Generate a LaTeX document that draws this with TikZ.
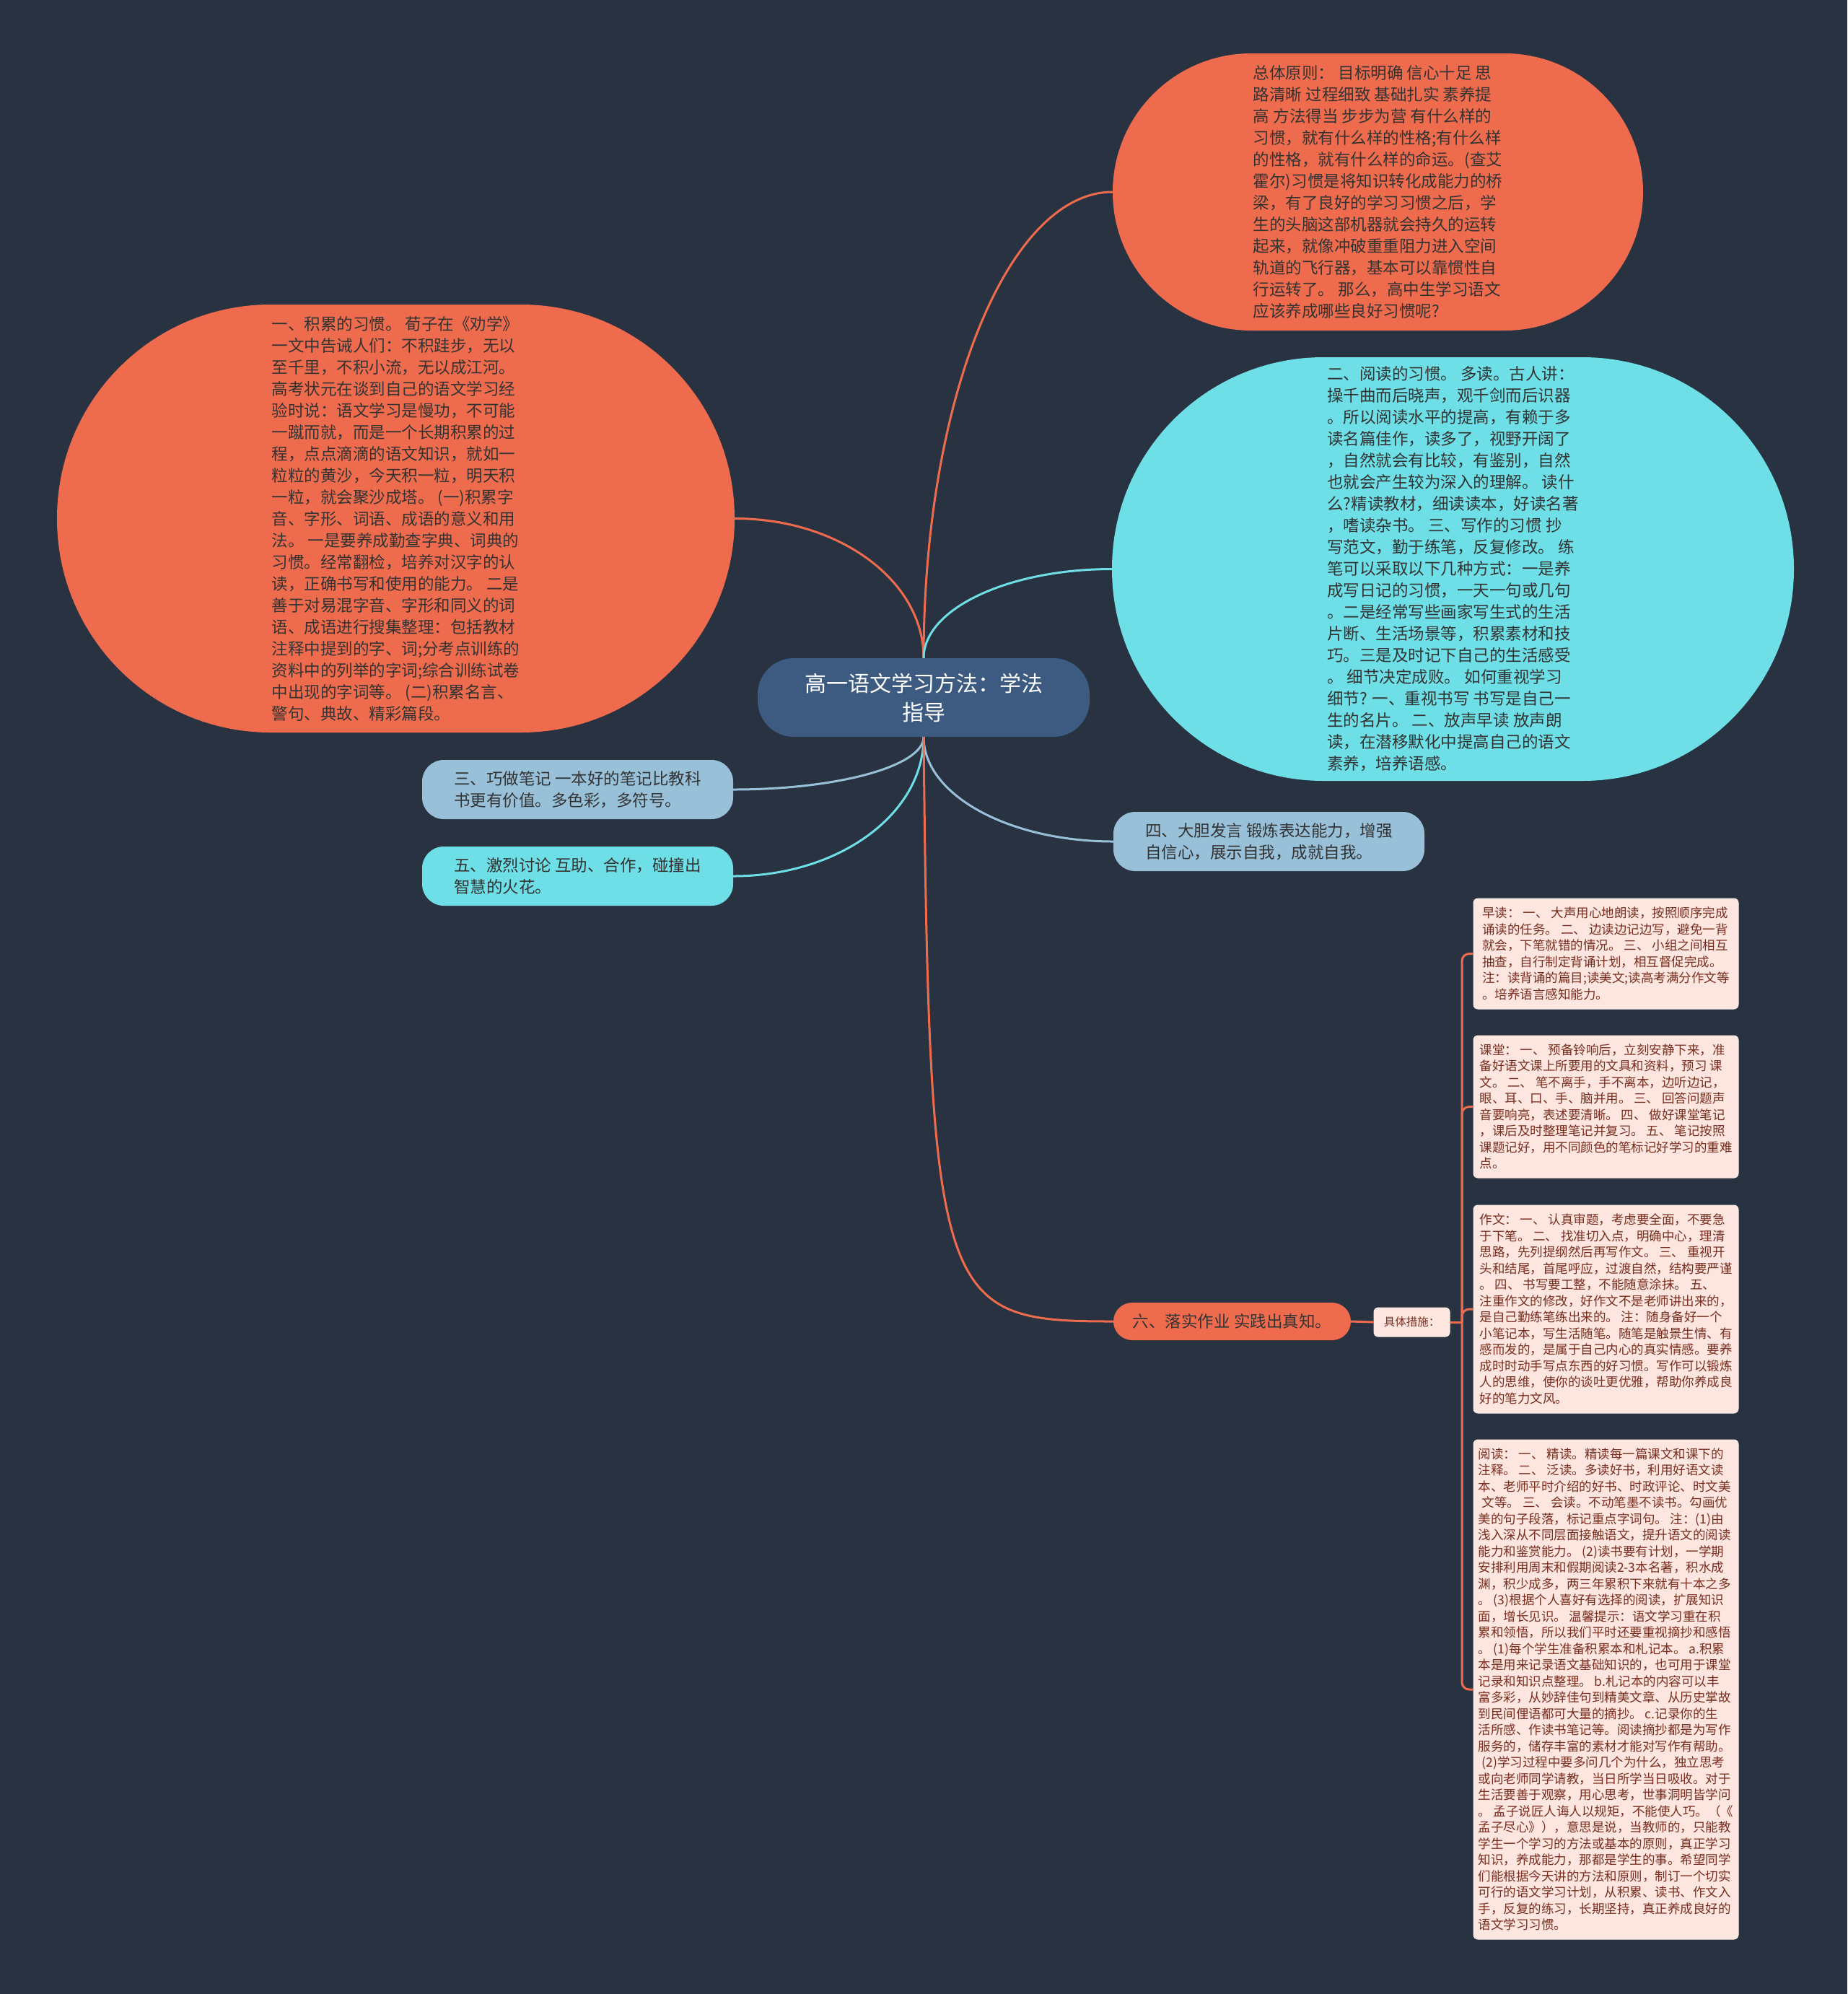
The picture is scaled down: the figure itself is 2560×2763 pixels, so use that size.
\documentclass[tikz,border=0pt]{standalone}
\usepackage{fontspec}
\setmainfont{Noto Sans CJK SC}
\definecolor{bg}{RGB}{41,50,65}
\definecolor{navy}{RGB}{61,90,128}
\definecolor{sky}{RGB}{152,193,217}
\definecolor{sienna}{RGB}{238,108,77}
\definecolor{aqua}{RGB}{110,223,230}
\definecolor{blush}{RGB}{252,230,223}
\definecolor{blushline}{RGB}{250,238,234}
\definecolor{ink}{RGB}{51,51,51}
\definecolor{rust}{RGB}{120,45,30}
\begin{document}
\begin{tikzpicture}[x=1pt,y=-1pt,
  bigtext/.style={inner sep=0pt, align=left, text=ink, font=\fontsize{22.5}{30}\selectfont},
  pilltext/.style={inner sep=0pt, align=left, text=ink, font=\fontsize{22.5}{30}\selectfont},
  notebox/.style={fill=blush, draw=blushline, line width=1pt, rounded corners=6pt, inner sep=0pt, align=left, text=rust, font=\fontsize{17.5}{22.5}\selectfont, minimum width=367pt},
  link/.style={line width=3pt},
]
\fill[bg] (0,0) rectangle (2560,2763);

% central topic
\node[fill=navy, minimum width=460pt, minimum height=109pt, rounded corners=50pt, inner sep=0pt, align=center, text=white, font=\fontsize{30}{40}\selectfont] (C) at (1280,966.5) {高一语文学习方法：学法\\指导};

% big stadium nodes
\node[bigtext, fill=sienna, minimum width=735pt, minimum height=384pt, rounded corners=192pt] (TR) at (1909.5,266) {总体原则： 目标明确 信心十足 思\\
路清晰 过程细致 基础扎实 素养提\\
高 方法得当 步步为营 有什么样的\\
习惯，就有什么样的性格;有什么样\\
的性格，就有什么样的命运。(查艾\\
霍尔)习惯是将知识转化成能力的桥\\
梁，有了良好的学习习惯之后，学\\
生的头脑这部机器就会持久的运转\\
起来，就像冲破重重阻力进入空间\\
轨道的飞行器，基本可以靠惯性自\\
行运转了。 那么，高中生学习语文\\
应该养成哪些良好习惯呢?};

\node[bigtext, fill=sienna, minimum width=939pt, minimum height=593pt, rounded corners=296pt] (L) at (548.5,718.5) {一、积累的习惯。 荀子在《劝学》\\
一文中告诫人们：不积跬步，无以\\
至千里，不积小流，无以成江河。\\
高考状元在谈到自己的语文学习经\\
验时说：语文学习是慢功，不可能\\
一蹴而就，而是一个长期积累的过\\
程，点点滴滴的语文知识，就如一\\
粒粒的黄沙，今天积一粒，明天积\\
一粒，就会聚沙成塔。 (一)积累字\\
音、字形、词语、成语的意义和用\\
法。 一是要养成勤查字典、词典的\\
习惯。经常翻检，培养对汉字的认\\
读，正确书写和使用的能力。 二是\\
善于对易混字音、字形和同义的词\\
语、成语进行搜集整理：包括教材\\
注释中提到的字、词;分考点训练的\\
资料中的列举的字词;综合训练试卷\\
中出现的字词等。 (二)积累名言、\\
警句、典故、精彩篇段。};

\node[bigtext, fill=aqua, minimum width=945pt, minimum height=587pt, rounded corners=293pt] (CY) at (2013.5,788.5) {二、阅读的习惯。 多读。古人讲：\\
操千曲而后晓声，观千剑而后识器\\
。所以阅读水平的提高，有赖于多\\
读名篇佳作，读多了，视野开阔了\\
，自然就会有比较，有鉴别，自然\\
也就会产生较为深入的理解。 读什\\
么?精读教材，细读读本，好读名著\\
，嗜读杂书。 三、写作的习惯 抄\\
写范文，勤于练笔，反复修改。 练\\
笔可以采取以下几种方式：一是养\\
成写日记的习惯，一天一句或几句\\
。二是经常写些画家写生式的生活\\
片断、生活场景等，积累素材和技\\
巧。三是及时记下自己的生活感受\\
。 细节决定成败。 如何重视学习\\
细节? 一、重视书写 书写是自己一\\
生的名片。 二、放声早读 放声朗\\
读，在潜移默化中提高自己的语文\\
素养，培养语感。};

% small pill nodes
\node[pilltext, fill=sky, minimum width=431pt, minimum height=82pt, rounded corners=30pt] (N3) at (800.5,1094) {三、巧做笔记 一本好的笔记比教科\\书更有价值。多色彩，多符号。};
\node[pilltext, fill=aqua, minimum width=431pt, minimum height=82pt, rounded corners=30pt] (N5) at (800.5,1214) {五、激烈讨论 互助、合作，碰撞出\\智慧的火花。};
\node[pilltext, fill=sky, minimum width=431pt, minimum height=82pt, rounded corners=30pt] (N4) at (1758.5,1166) {四、大胆发言 锻炼表达能力，增强\\自信心，展示自我，成就自我。};
\node[pilltext, fill=sienna, minimum width=329pt, minimum height=52pt, rounded corners=26pt] (N6) at (1707.5,1831) {六、落实作业 实践出真知。};

% detail label and notes
\node[notebox, minimum width=105pt, minimum height=40pt, font=\fontsize{15.5}{20}\selectfont] (JT) at (1956.5,1832) {具体措施：};

\node[notebox, minimum height=153pt] (B1) at (2225.5,1321.5) {早读： 一、 大声用心地朗读，按照顺序完成\\
诵读的任务。 二、 边读边记边写，避免一背\\
就会，下笔就错的情况。 三、 小组之间相互\\
抽查，自行制定背诵计划，相互督促完成。\\
注：读背诵的篇目;读美文;读高考满分作文等\\
。培养语言感知能力。};

\node[notebox, minimum height=197pt] (B2) at (2225.5,1533.5) {课堂： 一、 预备铃响后，立刻安静下来，准\\
备好语文课上所要用的文具和资料，预习 课\\
文。 二、 笔不离手，手不离本，边听边记，\\
眼、耳、口、手、脑并用。 三、 回答问题声\\
音要响亮，表述要清晰。 四、 做好课堂笔记\\
，课后及时整理笔记并复习。 五、 笔记按照\\
课题记好，用不同颜色的笔标记好学习的重难\\
点。};

\node[notebox, minimum height=288pt] (B3) at (2225.5,1814) {作文： 一、 认真审题，考虑要全面，不要急\\
于下笔。 二、 找准切入点，明确中心，理清\\
思路，先列提纲然后再写作文。 三、 重视开\\
头和结尾，首尾呼应，过渡自然，结构要严谨\\
。 四、 书写要工整，不能随意涂抹。 五、\\
注重作文的修改，好作文不是老师讲出来的，\\
是自己勤练笔练出来的。 注：随身备好一个\\
小笔记本，写生活随笔。随笔是触景生情、有\\
感而发的，是属于自己内心的真实情感。要养\\
成时时动手写点东西的好习惯。写作可以锻炼\\
人的思维，使你的谈吐更优雅，帮助你养成良\\
好的笔力文风。};

\node[notebox, minimum height=692pt] (B4) at (2225.5,2341) {阅读： 一、 精读。精读每一篇课文和课下的\\
注释。 二、 泛读。多读好书，利用好语文读\\
本、老师平时介绍的好书、时政评论、时文美\\
\hspace*{0.3em}文等。 三、 会读。不动笔墨不读书。勾画优\\
美的句子段落，标记重点字词句。 注：(1)由\\
浅入深从不同层面接触语文，提升语文的阅读\\
能力和鉴赏能力。 (2)读书要有计划，一学期\\
安排利用周末和假期阅读2-3本名著，积水成\\
渊，积少成多，两三年累积下来就有十本之多\\
。 (3)根据个人喜好有选择的阅读，扩展知识\\
面，增长见识。 温馨提示：语文学习重在积\\
累和领悟，所以我们平时还要重视摘抄和感悟\\
。 (1)每个学生准备积累本和札记本。 a.积累\\
本是用来记录语文基础知识的，也可用于课堂\\
记录和知识点整理。 b.札记本的内容可以丰\\
富多彩，从妙辞佳句到精美文章、从历史掌故\\
到民间俚语都可大量的摘抄。 c.记录你的生\\
活所感、作读书笔记等。阅读摘抄都是为写作\\
服务的，储存丰富的素材才能对写作有帮助。\\
\hspace*{0.3em}(2)学习过程中要多问几个为什么，独立思考\\
或向老师同学请教，当日所学当日吸收。对于\\
生活要善于观察，用心思考，世事洞明皆学问\\
。 孟子说匠人诲人以规矩，不能使人巧。（《\\
孟子尽心》），意思是说，当教师的，只能教\\
学生一个学习的方法或基本的原则，真正学习\\
知识，养成能力，那都是学生的事。希望同学\\
们能根据今天讲的方法和原则，制订一个切实\\
可行的语文学习计划，从积累、读书、作文入\\
手，反复的练习，长期坚持，真正养成良好的\\
语文学习习惯。};

% connectors from the central topic
\draw[link, sienna] (C.north) .. controls +(0,-357) and +(-145,0) .. (TR.west);
\draw[link, sienna] (C.north) .. controls +(0,-107) and +(145,0) .. (L.east);
\draw[link, aqua] (C.north) .. controls +(0,-68) and +(-144,0) .. (CY.west);
\draw[link, sky] (C.south) .. controls +(0,40) and +(146,0) .. (N3.east);
\draw[link, aqua] (C.south) .. controls +(0,107) and +(146,0) .. (N5.east);
\draw[link, sky] (C.south) .. controls +(0,80) and +(-145,0) .. (N4.west);
\draw[link, sienna] (C.south) .. controls +(8,790) and +(-240,0) .. (N6.west);

% bracket to detail notes
\coordinate (J) at (2026,1832);
\draw[link, sienna] (N6.east) -- (JT.west);
\draw[link, sienna] (JT.east) -- (J);
\draw[link, sienna, rounded corners=10pt] (J) |- (B1.west);
\draw[link, sienna, rounded corners=10pt] (J) |- (B2.west);
\draw[link, sienna, rounded corners=10pt] (J) |- (B3.west);
\draw[link, sienna, rounded corners=10pt] (J) |- (B4.west);
\end{tikzpicture}
\end{document}
